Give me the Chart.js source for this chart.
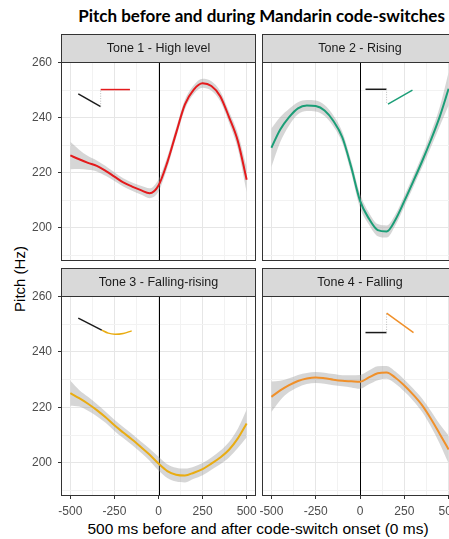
<!DOCTYPE html>
<html>
<head>
<meta charset="utf-8">
<script src="https://cdn.jsdelivr.net/npm/chart.js@4/dist/chart.umd.min.js"></script>
<style>
  html, body { margin: 0; padding: 0; background: #fff; }
  body { width: 449px; height: 539px; position: relative; overflow: hidden; font-family: "Liberation Sans", Arial, sans-serif; }
  canvas { position: absolute; }
  #title { position: absolute; left: 0; top: 6px; width: 523px; text-align: center; font: bold 17px Lato, sans-serif; line-height: 20px; color: #000; white-space: nowrap; }
  #ytitle { position: absolute; left: -30px; top: 270px; width: 100px; height: 18px; line-height: 18px; text-align: center; font-size: 15px; transform: rotate(-90deg); color: #000; }
  #xtitle { position: absolute; left: 8px; top: 520px; width: 500px; line-height: 18px; text-align: center; font-size: 15.5px; color: #000; white-space: nowrap; }
</style>
</head>
<body>
<div id="title">Pitch before and during Mandarin code-switches</div>
<div id="ytitle">Pitch (Hz)</div>
<div id="xtitle">500 ms before and after code-switch onset (0 ms)</div>
<canvas id="p1" width="258" height="227" style="left:0px;top:34px"></canvas>
<canvas id="p2" width="200" height="227" style="left:260px;top:34px"></canvas>
<canvas id="p3" width="258" height="252" style="left:0px;top:268px"></canvas>
<canvas id="p4" width="200" height="252" style="left:260px;top:268px"></canvas>
<script>
// time from code-switch onset (ms)
const times = [-500, -450, -400, -350, -300, -250, -200, -150, -100, -50, 0,
  50, 100, 150, 200, 250, 300, 350, 400, 450, 500];

// smoothed pitch (Hz) per tone
const tone1 = [226.3, 224.9, 223.6, 222.5, 220.7, 218.6, 216.5, 215.0, 213.7, 212.6, 215.4,
  223.8, 234.5, 244.8, 250.2, 252.5, 251.5, 247.8, 240.2, 231.5, 217.5];
const tone2 = [229.1, 235.7, 240.2, 243.4, 244.4, 244.2, 242.6, 238.8, 232.9, 222.2, 209.9,
  203.4, 199.2, 198.7, 203.0, 209.7, 216.8, 224.1, 231.9, 240.4, 250.5];
const tone3 = [225.1, 223.3, 221.3, 219.0, 216.4, 213.5, 210.9, 208.4, 205.7, 202.9, 199.7,
  197.0, 195.7, 195.4, 196.4, 197.7, 199.7, 201.9, 204.7, 208.8, 214.2];
const tone4 = [223.8, 226.1, 228.0, 229.5, 230.4, 230.8, 230.5, 230.0, 229.6, 229.4, 229.2,
  230.8, 232.3, 232.6, 230.7, 227.9, 224.6, 220.8, 215.9, 210.4, 204.8];

// half width of the confidence band (Hz)
const ci1 = [5, 3.5, 2.5, 2, 1.8, 1.6, 1.5, 1.5, 1.6, 1.8, 2.2, 2, 1.8, 1.7, 1.6, 1.6, 1.7, 1.8, 2, 2.8, 4.5];
const ci2 = [7, 4.5, 3, 2.2, 2, 2, 2, 2, 2, 2.2, 2.5, 2.2, 2.2, 2.2, 2, 2, 2, 2.2, 2.6, 3.5, 6];
const ci3 = [4.5, 3, 2.5, 2.2, 2, 2, 2, 2, 2, 2.2, 2.5, 2.5, 2.5, 2.5, 2.2, 2.2, 2.2, 2.4, 2.8, 3.5, 5];
const ci4 = [5.5, 3.5, 2.5, 2.2, 2, 2, 2, 2, 2, 2.2, 2.5, 2.5, 2.5, 2.3, 2.2, 2.2, 2.2, 2.4, 2.8, 3.5, 5];

const toneNames = ["Tone 1 - High level", "Tone 2 - Rising", "Tone 3 - Falling-rising", "Tone 4 - Falling"];
const toneColors = ["#E41A1C", "#1B9E77", "#E9AC12", "#F0902A"];

// little tone glyphs: [x, y] pairs (preceding word in black, tone in colour)
const glyphBefore = [
  [[-455, 248.6], [-328, 244.0]],
  [[31, 250.3], [150, 250.3]],
  [[-455, 252.2], [-322, 247.9]],
  [[31, 247.0], [150, 247.0]]
];
const glyphTone = [
  [[-328, 250.2], [-162, 250.2]],
  [[158, 244.9], [296, 250.0]],
  [[-322, 247.9], [-285, 246.8], [-247, 246.4], [-200, 246.7], [-152, 247.6]],
  [[150, 254.0], [302, 247.0]]
];
const glyphJoin = [
  [[-328, 244.0], [-328, 250.2]],
  [[150, 250.3], [150, 245.0]],
  [],
  [[150, 247.0], [150, 254.0]]
];

const xMajor = [-500, -250, 0, 250, 500];
const xMinor = [-375, -125, 125, 375];
const yMajor = [200, 220, 240, 260];
const yMinor = [190, 210, 230, 250];
const onset = 0;

const xMin = -553, xMax = 553;
const yMin = 188, yMax = 260.2;

const panelDecor = {
  id: "panelDecor",
  beforeDatasetsDraw(chart) {
    const { ctx, chartArea } = chart;
    const x = Math.round(chart.scales.x.getPixelForValue(onset)) + 0.5;
    ctx.save();
    ctx.strokeStyle = "#000";
    ctx.lineWidth = 1;
    ctx.beginPath();
    ctx.moveTo(x, chartArea.top);
    ctx.lineTo(x, chartArea.bottom);
    ctx.stroke();
    ctx.restore();
  },
  afterDraw(chart, args, opts) {
    const { ctx, chartArea } = chart;
    const l = chartArea.left, t = chartArea.top, w = chartArea.right - chartArea.left, h = chartArea.bottom - chartArea.top;
    ctx.save();
    ctx.strokeStyle = "#333333";
    ctx.lineWidth = 1;
    ctx.strokeRect(l + 0.5, t + 0.5, w - 1, h - 1);
    // strip
    ctx.fillStyle = "#D9D9D9";
    ctx.fillRect(l, t - 28, w, 28);
    ctx.strokeRect(l + 0.5, t - 27.5, w - 1, 28);
    ctx.fillStyle = "#1A1A1A";
    ctx.font = "12.5px 'Liberation Sans', Arial, sans-serif";
    ctx.textAlign = "center";
    ctx.textBaseline = "middle";
    ctx.fillText(opts.label, l + w / 2, t - 13.5);
    ctx.restore();
  }
};

function pts(arr) {
  return arr.map(p => ({ x: p[0], y: p[1] }));
}

function noPad(s) {
  s.paddingTop = 0;
  s.paddingBottom = 0;
  s.paddingLeft = 0;
  s.paddingRight = 0;
}

function makePanel(id, i, vals, ci, hasLeft, hasBottom) {
  const color = toneColors[i];
  new Chart(document.getElementById(id), {
    type: "line",
    data: {
      datasets: [
        {
          data: times.map((t, k) => ({ x: t, y: vals[k] + ci[k] })),
          borderWidth: 0, pointRadius: 0, fill: false,
          cubicInterpolationMode: "monotone", order: 3,
        },
        {
          data: times.map((t, k) => ({ x: t, y: vals[k] - ci[k] })),
          borderWidth: 0, pointRadius: 0, fill: "-1",
          backgroundColor: "rgba(153,153,153,0.4)",
          cubicInterpolationMode: "monotone", order: 2,
        },
        {
          data: times.map((t, k) => ({ x: t, y: vals[k] })),
          borderColor: color, borderWidth: 2, pointRadius: 0, fill: false,
          cubicInterpolationMode: "monotone", order: 0,
        },
        {
          data: pts(glyphJoin[i]),
          borderColor: "#BBBBBB", borderWidth: 1, borderDash: [1, 1.5], pointRadius: 0, fill: false, order: 1,
        },
        {
          data: pts(glyphBefore[i]),
          borderColor: "#1A1A1A", borderWidth: 1.5, pointRadius: 0, fill: false, order: 1,
        },
        {
          data: pts(glyphTone[i]),
          borderColor: color, borderWidth: 1.5, pointRadius: 0, fill: false,
          tension: 0.4, order: 1,
        },
      ],
    },
    options: {
      responsive: false,
      animation: false,
      events: [],
      layout: { padding: { top: 28, right: 2, left: hasLeft ? 0 : 2, bottom: 0 } },
      plugins: {
        legend: { display: false },
        tooltip: { enabled: false },
        panelDecor: { label: toneNames[i] },
      },
      scales: {
        x: {
          type: "linear",
          min: xMin,
          max: xMax,
          afterBuildTicks: (s) => { s.ticks = xMinor.concat(xMajor).sort((a, b) => a - b).map(v => ({ value: v })); },
          afterFit: (s) => { s.height = hasBottom ? 24 : 0; noPad(s); },
          border: { display: false },
          grid: {
            color: (c) => xMajor.includes(c.tick.value) ? "#E6E6E6" : "#F2F2F2",
            lineWidth: 1,
            drawTicks: hasBottom,
            tickLength: 3,
            tickColor: (c) => xMajor.includes(c.tick.value) ? "#333333" : "rgba(0,0,0,0)",
          },
          ticks: {
            display: hasBottom,
            autoSkip: false,
            maxRotation: 0,
            padding: 5,
            color: "#4D4D4D",
            font: { family: "'Liberation Sans', Arial, sans-serif", size: 12 },
            callback: (v) => xMajor.includes(v) ? String(v) : "",
          },
        },
        y: {
          type: "linear",
          min: yMin,
          max: yMax,
          afterBuildTicks: (s) => { s.ticks = yMinor.concat(yMajor).sort((a, b) => a - b).map(v => ({ value: v })); },
          afterFit: (s) => { s.width = hasLeft ? 61 : 0; noPad(s); },
          border: { display: false },
          grid: {
            color: (c) => yMajor.includes(c.tick.value) ? "#E6E6E6" : "#F2F2F2",
            lineWidth: 1,
            drawTicks: hasLeft,
            tickLength: 3,
            tickColor: (c) => yMajor.includes(c.tick.value) ? "#333333" : "rgba(0,0,0,0)",
          },
          ticks: {
            display: hasLeft,
            autoSkip: false,
            padding: 6,
            color: "#4D4D4D",
            font: { family: "'Liberation Sans', Arial, sans-serif", size: 12 },
            callback: (v) => yMajor.includes(v) ? String(v) : "",
          },
        },
      },
    },
    plugins: [panelDecor],
  });
}

makePanel("p1", 0, tone1, ci1, true, false);
makePanel("p2", 1, tone2, ci2, false, false);
makePanel("p3", 2, tone3, ci3, true, true);
makePanel("p4", 3, tone4, ci4, false, true);
</script>
</body>
</html>
